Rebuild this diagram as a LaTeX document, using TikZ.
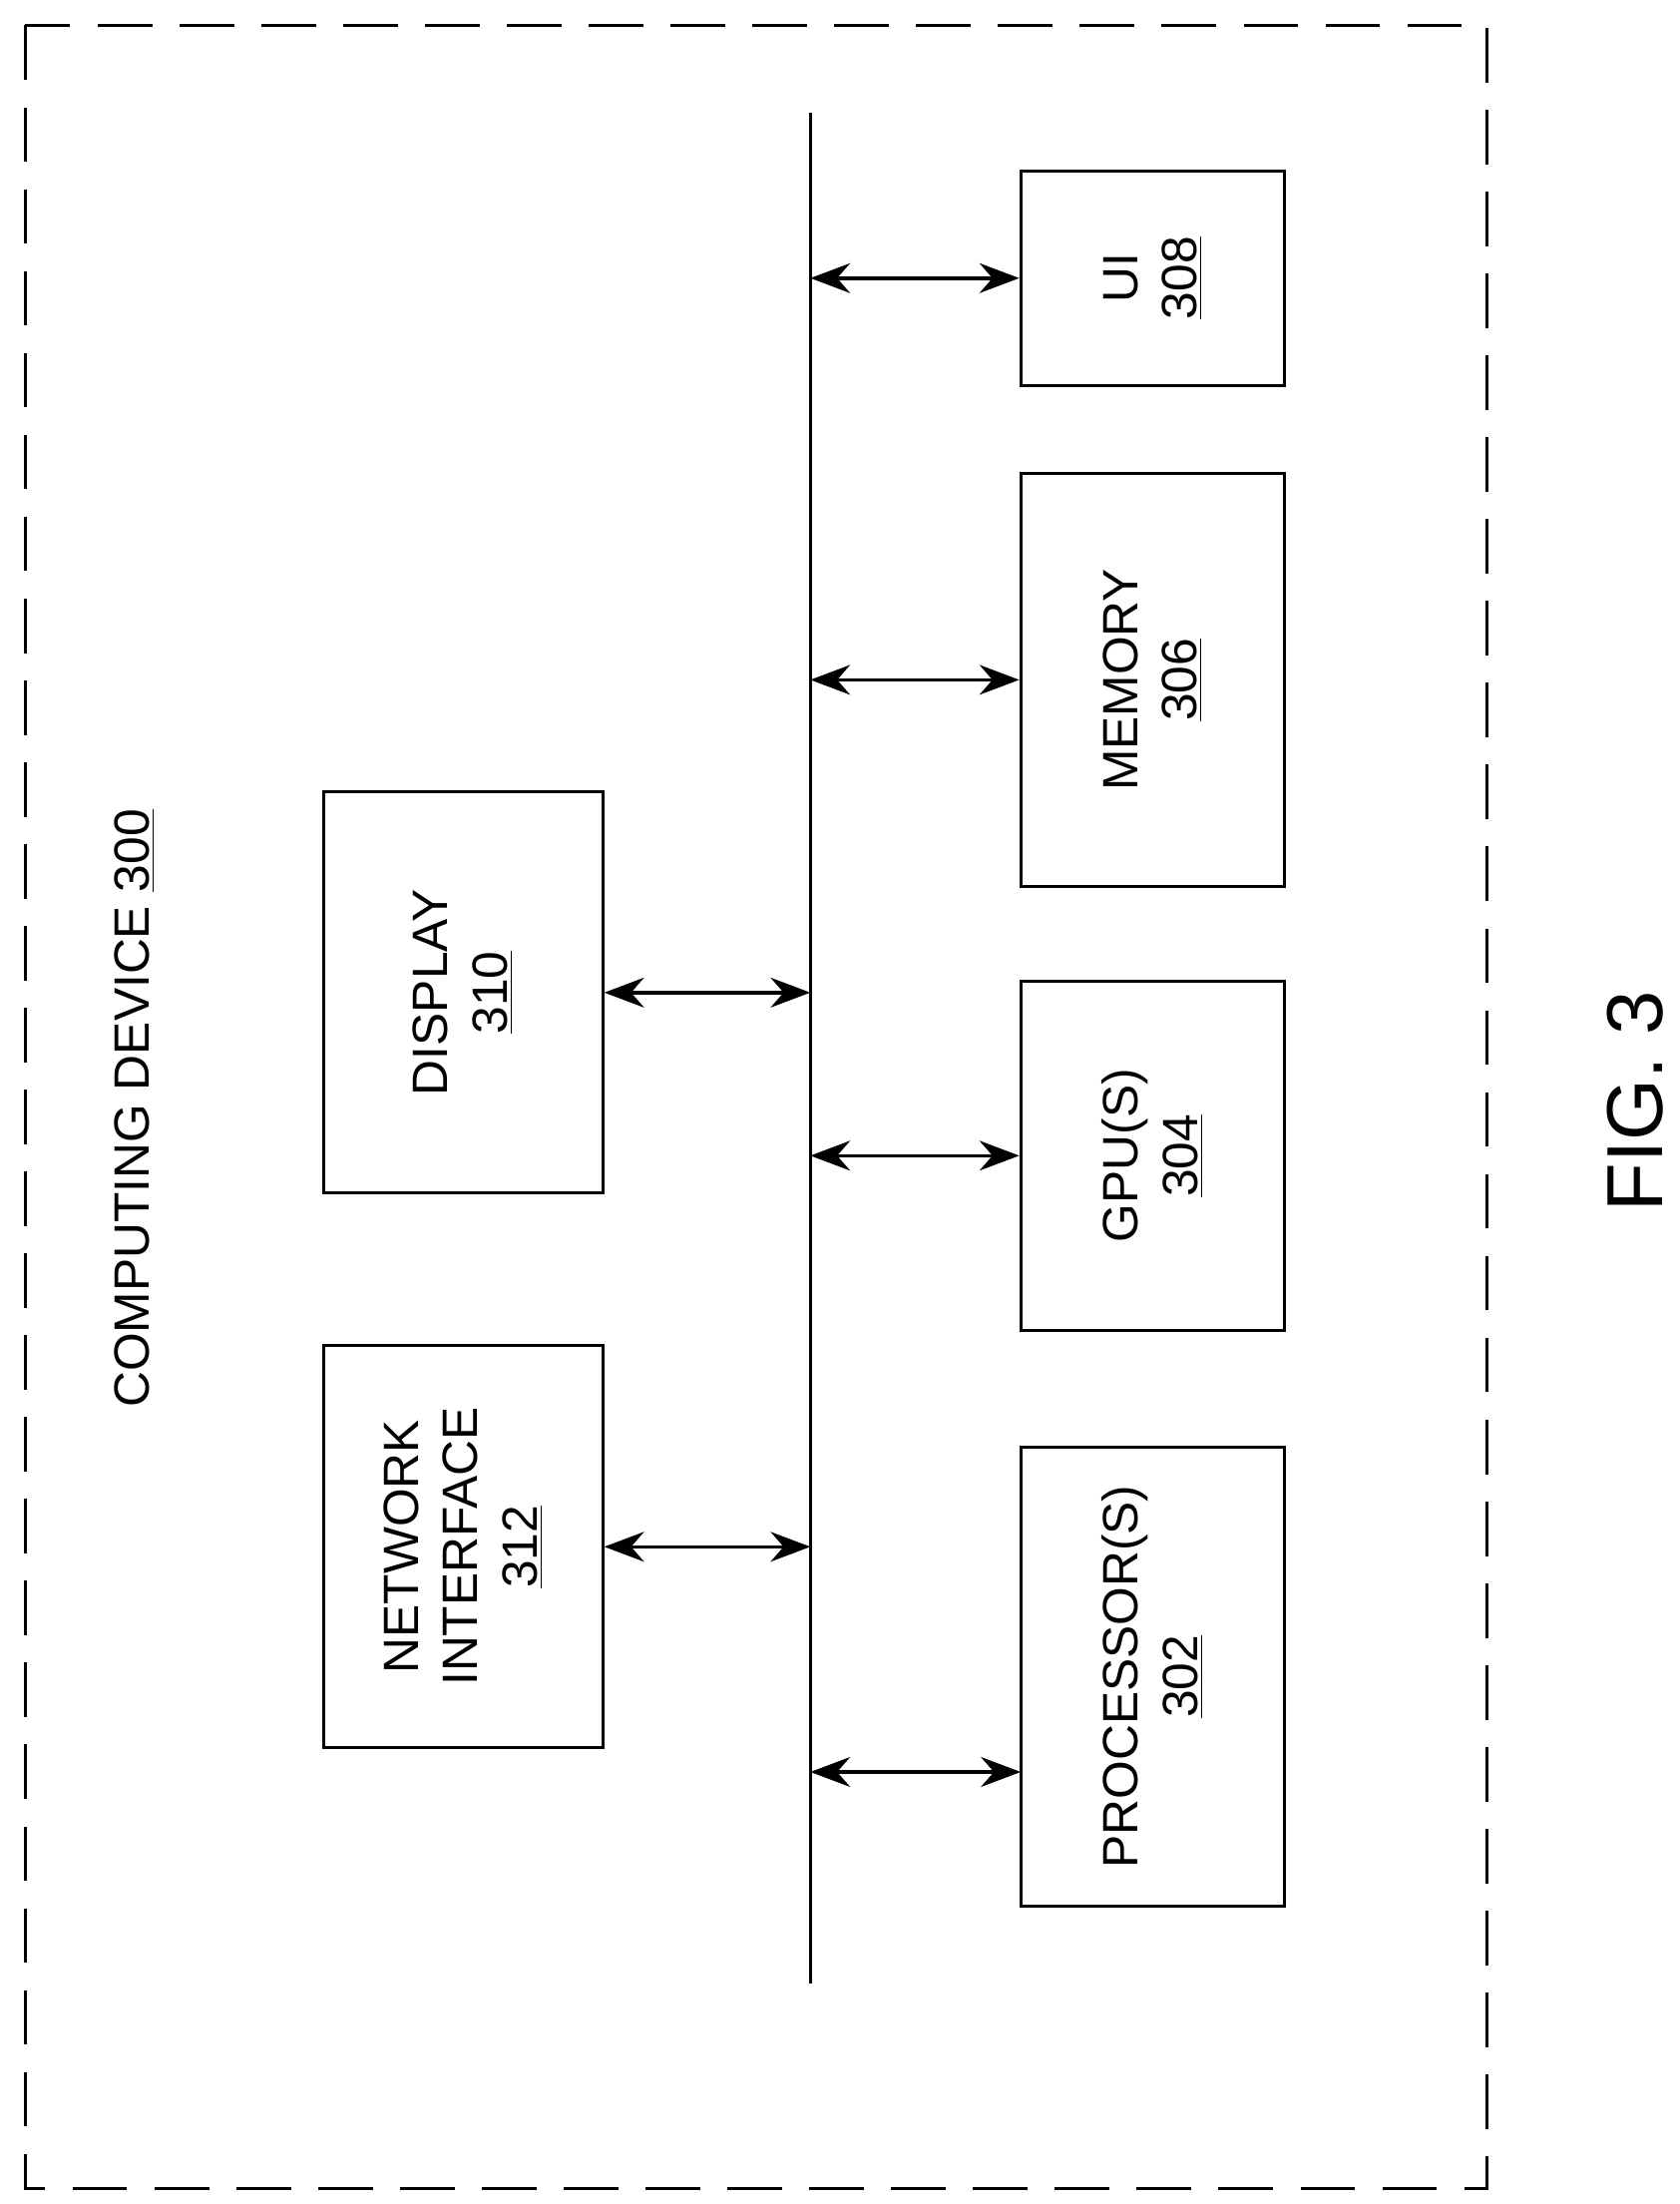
\documentclass[tikz,border=0pt]{standalone}
\usepackage{fontspec}
\setmainfont{Liberation Sans}
\usetikzlibrary{arrows.meta,calc,positioning}

\tikzset{
  blk/.style={draw,line width=1.2pt,rotate=90,align=center,font=\fontsize{20}{24}\selectfont,inner sep=0pt},
  link/.style={{Stealth[length=16pt,width=12pt]}-{Stealth[length=16pt,width=12pt]},line width=1.4pt}
}

\begin{document}
\begin{tikzpicture}[x=0.02cm,y=-0.02cm]
\useasboundingbox (0,0) rectangle (1190,1561);
\draw[line width=1.2pt,dash pattern=on 22pt off 11pt] (18,18) rectangle (1053,1550);
\node[rotate=90,font=\fontsize{20}{24}\selectfont] (title) at (95,785) {COMPUTING DEVICE \underline{300}};
\node[rotate=90,font=\fontsize{32}{36}\selectfont] (fig) at (1158,780) {FIG. 3};

% bus
\coordinate (bustop) at (574,80);
\coordinate (busbot) at (574,1405);
\draw[line width=1.2pt] (bustop) -- (busbot);

% blocks
\node[blk,minimum width=3.04cm,minimum height=3.74cm] (ui) at (816.5,197) {UI\\\underline{308}};
\node[blk,minimum width=5.86cm,minimum height=3.74cm] (mem) at (816.5,481.5) {MEMORY\\\underline{306}};
\node[blk,minimum width=4.94cm,minimum height=3.74cm] (gpu) at (816.5,818.5) {GPU(S)\\\underline{304}};
\node[blk,minimum width=6.5cm,minimum height=3.74cm] (proc) at (816.5,1187.5) {PROCESSOR(S)\\\underline{302}};
\node[blk,minimum width=5.68cm,minimum height=3.96cm] (disp) at (328,703) {DISPLAY\\\underline{310}};
\node[blk,minimum width=5.7cm,minimum height=3.96cm] (net) at (328,1095.5) {NETWORK\\INTERFACE\\\underline{312}};

% links
\coordinate (pin) at (723,1255);
\draw[link] (ui -| bustop) -- (ui);
\draw[link] (mem -| bustop) -- (mem);
\draw[link] (gpu -| bustop) -- (gpu);
\draw[link] (pin -| bustop) -- (pin);
\draw[link] (disp) -- (disp -| bustop);
\draw[link] (net) -- (net -| bustop);
\end{tikzpicture}
\end{document}
